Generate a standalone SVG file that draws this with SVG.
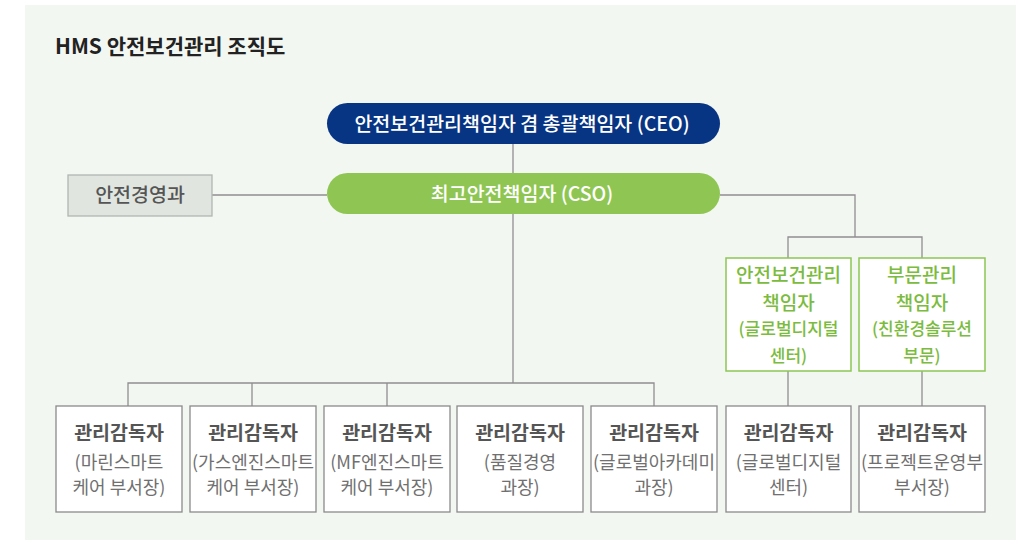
<svg xmlns="http://www.w3.org/2000/svg" width="1029" height="540" viewBox="0 0 1029 540">
<style>
text{font-family:"Noto Sans CJK KR","Noto Sans",sans-serif;text-anchor:middle}
.title{font-size:21px;font-weight:700;fill:#222;text-anchor:start}
.pill{font-size:19.5px;font-weight:500;fill:#fff}
.line{fill:none;stroke:#8e8e8e;stroke-width:1.3}
.gbox{fill:#fff;stroke:#8cc653;stroke-width:1.5}
.gt{font-size:19px;font-weight:500;fill:#7bbb3e}
.gs{font-size:17px;font-weight:500;fill:#7bbb3e}
.box{fill:#fff;stroke:#8a8a8a;stroke-width:1.3}
.bt{font-size:19.5px;font-weight:700;fill:#555}
.bs{font-size:18px;font-weight:400;fill:#707070}
</style>
<rect x="25" y="5" width="991" height="535" fill="#f3f7f2"/>
<text class="title" x="55" y="54">HMS 안전보건관리 조직도</text>
<g id="connectors">
<path class="line" d="M513 144V383"/>
<path class="line" d="M212 195H327"/>
<path class="line" d="M720 195H855V237"/>
<path class="line" d="M788 258V237H922V258"/>
<path class="line" d="M128 406V383H654V406"/>
<path class="line" d="M252 383V406M387 383V406"/>
<path class="line" d="M788 371V406M922 371V406"/>
</g>
<g id="ceo">
<rect x="327" y="103" width="393" height="41" rx="20.5" fill="#083583"/>
<text class="pill" x="522" y="131">안전보건관리책임자 겸 총괄책임자 (CEO)</text>
</g>
<g id="cso">
<rect x="327" y="173" width="393" height="41" rx="20.5" fill="#8fc653"/>
<text class="pill" x="522" y="201">최고안전책임자 (CSO)</text>
</g>
<g id="safety-mgmt">
<rect x="68" y="175" width="144" height="41" fill="#e0e5e0" stroke="#b2b6b2" stroke-width="1.3"/>
<text x="140" y="202" style="font-size:19.5px;font-weight:500;fill:#555">안전경영과</text>
</g>
<g id="hsm-officer">
<rect class="gbox" x="726" y="258" width="125" height="113"/>
<text class="gt" x="788.5" y="282">안전보건관리</text>
<text class="gt" x="788.5" y="310">책임자</text>
<text class="gs" x="788.5" y="334.5">(글로벌디지털</text>
<text class="gs" x="788.5" y="361.5">센터)</text>
</g>
<g id="div-officer">
<rect class="gbox" x="859" y="258" width="126" height="113"/>
<text class="gt" x="922" y="282">부문관리</text>
<text class="gt" x="922" y="310">책임자</text>
<text class="gs" x="922" y="334.5">(친환경솔루션</text>
<text class="gs" x="922" y="361.5">부문)</text>
</g>
<g id="sup1">
<rect class="box" x="56" y="406" width="126" height="106"/>
<text class="bt" x="119" y="440">관리감독자</text>
<text class="bs" x="119" y="468.5">(마린스마트</text>
<text class="bs" x="119" y="493.5">케어 부서장)</text>
</g>
<g id="sup2">
<rect class="box" x="190" y="406" width="126" height="106"/>
<text class="bt" x="253" y="440">관리감독자</text>
<text class="bs" x="253" y="468.5">(가스엔진스마트</text>
<text class="bs" x="253" y="493.5">케어 부서장)</text>
</g>
<g id="sup3">
<rect class="box" x="324" y="406" width="126" height="106"/>
<text class="bt" x="387" y="440">관리감독자</text>
<text class="bs" x="387" y="468.5">(MF엔진스마트</text>
<text class="bs" x="387" y="493.5">케어 부서장)</text>
</g>
<g id="sup4">
<rect class="box" x="457" y="406" width="126" height="106"/>
<text class="bt" x="520" y="440">관리감독자</text>
<text class="bs" x="520" y="468.5">(품질경영</text>
<text class="bs" x="520" y="493.5">과장)</text>
</g>
<g id="sup5">
<rect class="box" x="591" y="406" width="126" height="106"/>
<text class="bt" x="654" y="440">관리감독자</text>
<text class="bs" x="654" y="468.5">(글로벌아카데미</text>
<text class="bs" x="654" y="493.5">과장)</text>
</g>
<g id="sup6">
<rect class="box" x="726" y="406" width="125" height="106"/>
<text class="bt" x="788.5" y="440">관리감독자</text>
<text class="bs" x="788.5" y="468.5">(글로벌디지털</text>
<text class="bs" x="788.5" y="493.5">센터)</text>
</g>
<g id="sup7">
<rect class="box" x="859" y="406" width="126" height="106"/>
<text class="bt" x="922" y="440">관리감독자</text>
<text class="bs" x="922" y="468.5">(프로젝트운영부</text>
<text class="bs" x="922" y="493.5">부서장)</text>
</g>
</svg>
